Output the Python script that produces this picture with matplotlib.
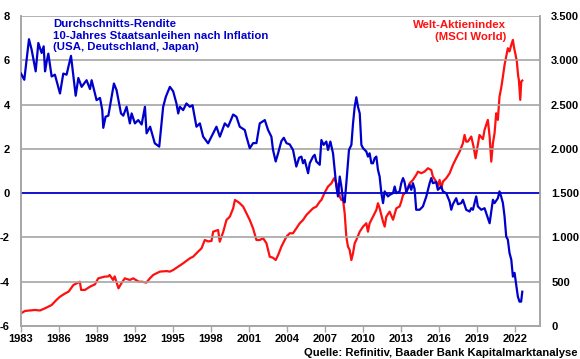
import matplotlib
matplotlib.use("Agg")
import matplotlib.pyplot as plt
from matplotlib.ticker import FuncFormatter

# Real yield (avg 10y govt bonds after inflation, USA/DE/JP), left axis, %
yield_years = [1983.0, 1983.26, 1983.63, 1983.84, 1984.16, 1984.37, 1984.63, 1984.79, 1984.9, 1985.03,
               1985.16, 1985.42, 1985.68, 1986.08, 1986.34, 1986.6, 1986.95, 1987.32, 1987.53, 1987.79,
               1988.18, 1988.45, 1988.58, 1988.97, 1989.24, 1989.42, 1989.5, 1989.68, 1989.9, 1990.34,
               1990.55, 1990.9, 1991.08, 1991.34, 1991.6, 1991.74, 1992.0, 1992.26, 1992.53, 1992.79,
               1992.92, 1993.2, 1993.57, 1993.92, 1994.23, 1994.44, 1994.76, 1995.02, 1995.28, 1995.42,
               1995.55, 1995.81, 1996.07, 1996.34, 1996.55, 1996.86, 1997.13, 1997.39, 1997.78, 1998.18,
               1998.44, 1998.71, 1999.1, 1999.36, 1999.76, 2000.02, 2000.28, 2000.68, 2000.81, 2001.07,
               2001.34, 2001.6, 2001.86, 2002.26, 2002.52, 2002.78, 2002.91, 2003.12, 2003.31, 2003.57,
               2003.76, 2003.97, 2004.23, 2004.49, 2004.75, 2004.97, 2005.15, 2005.28, 2005.41, 2005.68,
               2005.81, 2006.07, 2006.2, 2006.33, 2006.6, 2006.73, 2006.91, 2007.12, 2007.25, 2007.44,
               2007.65, 2007.78, 2007.91, 2008.04, 2008.18, 2008.31, 2008.44, 2008.57, 2008.7, 2008.91,
               2009.1, 2009.23, 2009.36, 2009.49, 2009.62, 2009.76, 2009.89, 2010.02, 2010.28, 2010.41,
               2010.54, 2010.68, 2010.81, 2010.94, 2011.07, 2011.2, 2011.33, 2011.47, 2011.6, 2011.73,
               2011.99, 2012.12, 2012.39, 2012.52, 2012.65, 2012.91, 2013.04, 2013.18, 2013.3, 2013.44,
               2013.7, 2013.83, 2013.96, 2014.09, 2014.22, 2014.49, 2014.75, 2015.02, 2015.28, 2015.41,
               2015.54, 2015.8, 2015.93, 2016.2, 2016.33, 2016.59, 2016.86, 2016.99, 2017.12, 2017.38,
               2017.52, 2017.78, 2017.91, 2018.17, 2018.44, 2018.57, 2018.7, 2018.96, 2019.09, 2019.36,
               2019.62, 2019.75, 2020.02, 2020.28, 2020.41, 2020.67, 2020.8, 2020.93, 2021.07, 2021.2,
               2021.33, 2021.46, 2021.59, 2021.73, 2021.86, 2021.99, 2022.12, 2022.25, 2022.38, 2022.51,
               2022.6]
yield_vals = [5.4, 5.12, 6.95, 6.48, 5.5, 6.78, 6.33, 6.63, 5.5, 5.95,
              6.3, 5.27, 5.35, 4.5, 5.4, 5.35, 6.2, 4.4, 5.2, 4.8,
              5.1, 4.7, 5.1, 4.2, 4.3, 3.75, 2.95, 3.45, 3.5, 4.95,
              4.65, 3.6, 3.5, 3.9, 3.15, 3.6, 3.15, 3.3, 3.1, 3.9,
              2.7, 3.0, 2.25, 2.1, 3.9, 4.35, 4.8, 4.6, 4.05, 3.6,
              3.9, 3.75, 4.05, 3.9, 3.97, 3.0, 3.15, 2.55, 2.25, 2.7,
              3.0, 2.55, 3.15, 3.0, 3.55, 3.45, 3.0, 2.85, 2.55, 2.03,
              2.26, 2.26, 3.15, 3.3, 2.85, 2.55, 1.95, 1.43, 1.8, 2.35,
              2.5, 2.26, 2.2, 1.95, 1.2, 1.6, 1.65, 1.35, 1.5, 0.9,
              1.35, 1.65, 1.73, 1.43, 1.28, 2.4, 2.18, 2.33, 1.95, 2.33,
              1.8, 1.05, 0.3, -0.15, 0.75, 0.3, -0.3, -0.42, 0.45, 1.95,
              2.18, 3.15, 3.9, 4.33, 3.9, 3.6, 2.18, 2.03, 1.88, 1.65,
              1.8, 1.35, 1.35, 1.58, 1.65, 1.05, 0.75, 0.0, -0.45, 0.08,
              -0.15, -0.08, 0.0, 0.3, 0.0, 0.08, 0.45, 0.68, 0.5, 0.05,
              0.38, 0.15, 0.45, 0.2, -0.75, -0.75, -0.6, -0.15, 0.45, 0.68,
              0.45, 0.5, 0.15, 0.3, 0.08, 0.0, -0.38, -0.75, -0.5, -0.23,
              -0.5, -0.45, -0.3, -0.75, -0.83, -0.68, -0.75, -0.15, -0.6, -0.75,
              -0.68, -0.9, -1.36, -0.3, -0.45, -0.23, 0.08, -0.15, -0.45, -1.05,
              -1.96, -2.1, -2.7, -3.0, -3.77, -3.6, -4.15, -4.67, -4.9, -4.9,
              -4.45]

# MSCI World index, right axis
msci_years = [1983.0, 1983.32, 1984.1, 1984.5, 1984.9, 1985.42, 1985.8, 1986.08, 1986.5, 1986.76,
              1987.14, 1987.4, 1987.65, 1987.75, 1988.05, 1988.45, 1988.84, 1989.1, 1989.6, 1989.9,
              1990.0, 1990.27, 1990.4, 1990.7, 1990.92, 1991.2, 1991.6, 1991.87, 1992.3, 1992.55,
              1992.9, 1993.18, 1993.44, 1993.97, 1994.5, 1994.76, 1995.02, 1995.42, 1995.81, 1996.34,
              1996.6, 1996.99, 1997.26, 1997.52, 1997.78, 1998.05, 1998.18, 1998.57, 1998.7, 1998.97,
              1999.23, 1999.5, 1999.76, 1999.9, 2000.15, 2000.28, 2000.55, 2000.81, 2001.07, 2001.33,
              2001.6, 2001.86, 2002.13, 2002.39, 2002.65, 2002.91, 2003.12, 2003.31, 2003.57, 2003.97,
              2004.23, 2004.49, 2004.75, 2005.02, 2005.28, 2005.55, 2005.81, 2006.07, 2006.33, 2006.6,
              2006.73, 2006.99, 2007.25, 2007.52, 2007.73, 2007.86, 2008.04, 2008.18, 2008.31, 2008.44,
              2008.57, 2008.7, 2008.83, 2008.96, 2009.1, 2009.23, 2009.36, 2009.49, 2009.76, 2010.02,
              2010.28, 2010.41, 2010.54, 2010.81, 2011.07, 2011.2, 2011.33, 2011.6, 2011.73, 2011.86,
              2012.12, 2012.39, 2012.65, 2012.91, 2013.04, 2013.18, 2013.44, 2013.7, 2013.96, 2014.22,
              2014.36, 2014.62, 2014.88, 2015.15, 2015.41, 2015.54, 2015.8, 2015.93, 2016.07, 2016.2,
              2016.33, 2016.59, 2016.86, 2017.12, 2017.38, 2017.65, 2017.91, 2018.04, 2018.17, 2018.3,
              2018.57, 2018.75, 2018.91, 2019.09, 2019.22, 2019.49, 2019.62, 2019.88, 2020.02, 2020.15,
              2020.28, 2020.41, 2020.54, 2020.67, 2020.8, 2020.93, 2021.07, 2021.2, 2021.33, 2021.46,
              2021.59, 2021.73, 2021.86, 2021.94, 2022.07, 2022.17, 2022.28, 2022.33, 2022.44, 2022.52,
              2022.6]
msci_vals = [143, 170, 181, 175, 200, 237, 294, 331, 369, 388,
             463, 482, 500, 407, 407, 444, 470, 538, 557, 560,
             576, 520, 560, 425, 480, 538, 520, 538, 500, 500,
             490, 538, 576, 614, 620, 614, 632, 670, 708, 764,
             783, 840, 877, 971, 955, 960, 1065, 1084, 952, 1060,
             1197, 1235, 1329, 1423, 1400, 1386, 1348, 1273, 1197, 1103,
             971, 971, 990, 934, 783, 770, 745, 800, 896, 1009,
             1047, 1047, 1103, 1160, 1197, 1254, 1291, 1329, 1348, 1404,
             1423, 1506, 1574, 1611, 1668, 1630, 1574, 1461, 1423, 1423,
             1273, 1009, 896, 860, 745, 821, 934, 971, 1065, 1122,
             1160, 1065, 1160, 1235, 1310, 1386, 1330, 1178, 1122, 1235,
             1291, 1200, 1329, 1350, 1404, 1480, 1517, 1611, 1649, 1706,
             1743, 1725, 1743, 1781, 1760, 1687, 1630, 1574, 1650, 1555,
             1630, 1668, 1724, 1818, 1894, 1969, 2063, 2157, 2082, 2082,
             2139, 2026, 1894, 2044, 2157, 2110, 2214, 2327, 2139, 1856,
             2063, 2176, 2402, 2327, 2590, 2684, 2816, 2948, 3042, 3136,
             3100, 3174, 3230, 3150, 3061, 2986, 2816, 2780, 2553, 2760,
             2771]

y_left_ticks = [-6, -4, -2, 0, 2, 4, 6, 8]
y_right_ticks = [0, 500, 1000, 1500, 2000, 2500, 3000, 3500]
x_ticks = list(range(1983, 2023, 3))

BLUE = "#0000CC"
RED = "#FF1010"
GRID = "#A6A6A6"
FONT = "Liberation Sans"

plt.rcParams["font.family"] = [FONT, "DejaVu Sans"]
plt.rcParams["font.weight"] = "bold"

fig = plt.figure(figsize=(5.8, 3.59), dpi=100)
ax = fig.add_axes([21 / 580, 33 / 359, 519 / 580, 310 / 359])
ax2 = ax.twinx()

ax.set_xlim(1983, 2024)
ax.set_ylim(-6, 8)
ax2.set_ylim(0, 3500)

for v in y_left_ticks:
    if v == 0:
        ax.axhline(v, color=BLUE, lw=1.3, zorder=1)
    else:
        ax.axhline(v, color=GRID, lw=1.2, zorder=0)

ax2.plot(msci_years, msci_vals, color=RED, lw=1.6, zorder=2)
ax.plot(yield_years, yield_vals, color=BLUE, lw=1.6, zorder=3)

ax.set_zorder(ax2.get_zorder() + 1)
ax.patch.set_visible(False)

ax.set_yticks(y_left_ticks)
ax.set_yticklabels([str(v) for v in y_left_ticks])
ax2.set_yticks(y_right_ticks)
ax2.yaxis.set_major_formatter(FuncFormatter(lambda v, p: f"{int(v):,}".replace(",", ".")))
ax.set_xticks(x_ticks)
ax.set_xticklabels([str(v) for v in x_ticks])

for a in (ax, ax2):
    for s in a.spines.values():
        s.set_color(GRID)
        s.set_linewidth(1.2)
    a.spines["top"].set_visible(False)

ax.tick_params(axis="y", length=0, pad=8, labelsize=8.0, colors="black")
ax2.tick_params(axis="y", length=0, pad=8, labelsize=8.0, colors="black")
ax.tick_params(axis="x", length=4, width=1, color=GRID, pad=2, labelsize=8.0)
for lab in ax.get_xticklabels() + ax.get_yticklabels() + ax2.get_yticklabels():
    lab.set_fontweight("bold")

ax.text(53 / 580, 1 - 19 / 359, "Durchschnitts-Rendite\n10-Jahres Staatsanleihen nach Inflation\n(USA, Deutschland, Japan)",
        transform=fig.transFigure, color=BLUE, fontsize=8.2, fontweight="bold", va="top", ha="left",
        linespacing=1.2)
ax.text(506 / 580, 1 - 20 / 359, "Welt-Aktienindex\n(MSCI World)", transform=fig.transFigure,
        color=RED, fontsize=8.2, fontweight="bold", va="top", ha="right", linespacing=1.2)
fig.text(577 / 580, 1 - 353 / 359, "Quelle: Refinitiv, Baader Bank Kapitalmarktanalyse",
         color="black", fontsize=8.1, fontweight="bold", ha="right", va="center")

fig.savefig("out.png", dpi=100)
